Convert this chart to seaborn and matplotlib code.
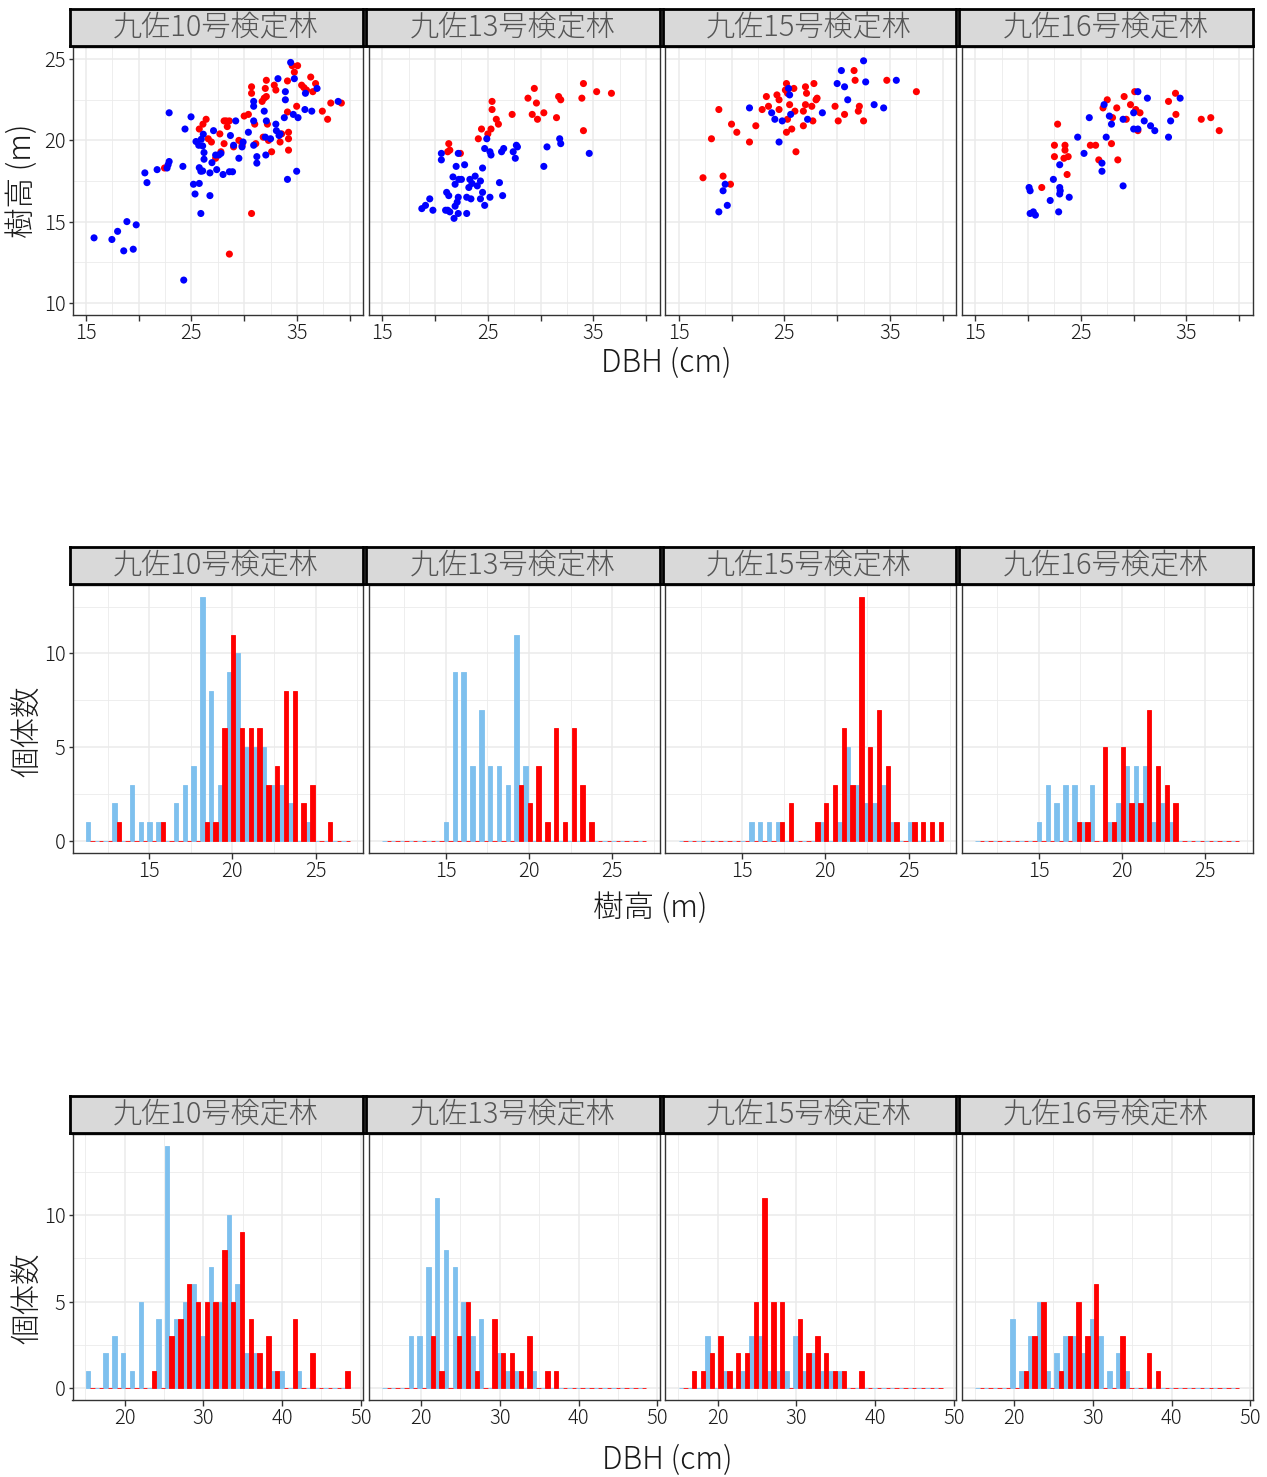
import numpy as np
import pandas as pd
import matplotlib
matplotlib.use("Agg")
import matplotlib.pyplot as plt
from matplotlib.ticker import FixedLocator, NullFormatter, FixedFormatter
import seaborn as sns

# ---------------- DATA ----------------
PANELS = ["九佐10号検定林", "九佐13号検定林", "九佐15号検定林", "九佐16号検定林"]

# scatter: (DBH cm, height m)
P10_RED = [(22.46,18.3),(28.6,13.0),(30.7,15.5),(25.75,20.7),(26.1,21.0),(26.4,21.3),(26.6,20.1),(26.9,19.9),
           (27.7,20.4),(28.1,21.2),(28.3,21.2),(28.6,21.2),(28.4,20.85),(27.3,18.9),(27.8,19.3),(28.1,19.8),
           (29.0,19.6),(29.5,20.0),(29.8,19.7),(30.0,21.5),(30.4,21.6),(30.7,23.3),(30.7,22.9),(31.0,21.0),
           (31.1,19.8),(31.7,22.4),(31.9,22.6),(32.1,22.7),(32.0,23.2),(32.1,23.7),(31.8,20.2),(32.3,20.0),
           (32.2,21.0),(32.6,19.3),(32.85,23.4),(33.0,23.1),(33.55,20.4),(33.4,19.9),(34.1,23.66),(34.1,21.75),
           (34.2,20.5),(34.2,20.1),(34.2,19.4),(34.55,24.6),(35.06,24.6),(34.75,24.2),(34.97,22.1),(35.44,23.4),
           (35.66,23.25),(35.9,23.1),(36.5,23.0),(36.3,23.9),(36.76,23.5),(37.4,21.8),(37.9,21.3),(38.2,22.3),
           (39.2,22.3)]
P10_BLUE = [(15.79,14.0),(17.48,13.9),(18.02,14.4),(18.9,15.0),(19.78,14.8),(18.6,13.2),(19.5,13.3),(24.28,11.4),
            (20.6,18.0),(20.8,17.4),(21.76,18.2),(22.7,18.3),(22.8,18.5),(22.9,18.7),(22.9,21.7),(24.2,18.4),
            (24.4,20.7),(24.97,21.45),(25.2,17.3),(25.75,17.35),(25.35,16.7),(25.9,15.5),(26.76,16.6),(25.44,19.93),
            (25.7,19.7),(26.07,19.66),(26.13,20.38),(25.94,20.07),(26.2,19.25),(26.2,18.84),(25.75,18.32),(25.9,18.1),
            (26.07,18.12),(26.76,18.0),(26.95,18.63),(27.1,20.6),(27.4,18.2),(27.3,19.1),(27.6,19.1),(27.8,19.2),
            (28.0,17.9),(28.7,20.3),(28.6,18.07),(28.9,18.07),(29.0,19.7),(29.2,21.2),(29.5,18.9),(29.8,19.6),
            (29.9,19.9),(30.4,20.5),(30.9,21.2),(30.9,22.1),(30.9,22.4),(30.9,19.7),(31.2,19.0),(31.2,18.6),
            (31.9,21.8),(32.0,20.2),(32.1,21.2),(32.05,19.1),(32.5,20.1),(33.0,21.0),(33.05,20.6),(33.2,23.8),
            (33.3,20.3),(33.4,20.4),(33.8,21.4),(33.9,23.0),(33.9,22.5),(34.1,17.6),(34.4,24.8),(34.75,23.8),
            (34.65,21.6),(35.1,21.4),(34.97,18.1),(35.8,22.9),(35.75,21.9),(36.4,21.8),(36.9,23.2),(38.9,22.4)]
P13_RED = [(21.3,19.8),(21.2,19.3),(21.4,19.4),(22.4,19.2),(24.1,20.1),(24.4,20.7),(25.0,20.4),(25.3,20.7),
           (25.4,22.4),(25.4,21.9),(25.8,21.3),(26.0,21.0),(27.3,21.6),(28.8,22.6),(29.4,23.2),(29.6,22.3),
           (29.2,21.6),(29.7,21.3),(30.3,21.7),(31.5,21.4),(31.7,22.7),(31.9,22.5),(34.05,23.5),(33.9,22.6),
           (34.05,20.6),(35.3,23.0),(36.7,22.9)]
P13_BLUE = [(18.75,15.8),(19.1,16.0),(19.5,16.4),(19.8,15.7),(20.6,19.2),(20.6,18.8),(22.2,19.2),(22.0,18.4),
            (22.8,18.5),(21.7,17.75),(21.9,17.3),(22.25,17.6),(22.5,17.6),(21.1,16.8),(21.3,16.6),(22.2,16.5),
            (22.1,16.2),(21.9,15.95),(21.0,15.7),(21.2,15.7),(21.4,15.6),(22.2,15.5),(21.8,15.2),(23.0,15.5),
            (23.0,16.5),(23.4,16.4),(23.3,17.6),(23.5,17.35),(23.2,17.1),(23.8,17.8),(24.0,17.2),(24.3,17.5),
            (24.5,16.8),(24.3,16.4),(24.7,16.0),(25.2,16.5),(24.5,18.3),(24.7,19.5),(24.9,20.1),(25.2,19.3),
            (25.3,19.1),(26.1,17.4),(26.4,16.6),(26.3,19.3),(26.5,19.5),(27.4,19.3),(27.6,18.9),(27.7,19.7),
            (27.8,19.6),(30.3,18.4),(30.6,19.6),(31.8,20.1),(31.9,19.8),(34.6,19.2)]
P15_RED = [(17.3,17.7),(18.1,20.1),(18.8,21.9),(19.2,17.8),(19.9,17.3),(20.0,21.0),(20.5,20.5),(21.7,19.9),
           (22.3,20.9),(22.9,21.9),(23.5,22.1),(23.3,22.7),(24.3,22.8),(24.5,22.5),(24.5,21.9),(25.1,23.1),
           (25.2,23.5),(25.3,22.9),(25.9,23.2),(25.3,21.3),(25.2,20.5),(25.7,20.7),(25.5,22.2),(26.0,21.8),
           (26.1,19.3),(26.8,21.8),(26.8,20.9),(27.0,23.3),(27.1,22.9),(27.0,22.2),(27.6,22.1),(27.7,21.2),
           (27.8,23.5),(28.0,22.5),(28.1,22.6),(29.8,22.1),(30.1,21.2),(30.7,21.6),(31.6,24.3),(31.7,23.7),
           (32.1,22.1),(32.0,21.8),(32.5,21.2),(34.7,23.7),(37.5,23.0)]
P15_BLUE = [(18.8,15.6),(19.2,16.9),(19.4,17.3),(19.6,16.0),(21.7,22.0),(23.8,21.7),(24.1,21.3),(24.8,21.2),
            (24.5,19.9),(25.4,23.2),(25.5,22.8),(25.6,21.6),(27.2,21.3),(28.6,21.7),(30.0,23.5),(30.4,24.3),
            (30.7,23.3),(31.0,22.5),(32.5,24.9),(32.7,23.6),(33.5,22.2),(34.4,22.0),(35.6,23.7)]
P16_RED = [(21.3,17.1),(22.8,21.0),(22.5,19.7),(22.5,19.0),(23.5,19.7),(23.5,19.4),(23.4,18.9),(23.8,19.0),
           (23.7,17.9),(25.9,19.7),(26.4,19.7),(26.7,18.8),(27.1,22.0),(27.5,22.5),(27.9,19.8),(28.0,21.4),
           (28.4,22.0),(28.5,18.8),(29.1,22.7),(29.3,21.3),(29.7,22.2),(30.1,23.0),(30.2,21.9),(30.6,21.7),
           (30.4,20.6),(33.3,22.4),(33.96,22.9),(34.0,21.6),(36.4,21.3),(37.3,21.4),(38.1,20.6)]
P16_BLUE = [(20.1,17.1),(20.2,16.9),(20.2,15.5),(20.5,15.6),(20.7,15.4),(22.1,16.3),(22.4,17.6),(22.9,15.6),
            (23.0,18.5),(23.0,17.1),(23.05,16.9),(23.0,16.7),(23.9,16.5),(24.7,20.2),(25.3,19.2),(25.8,21.4),
            (27.0,18.6),(27.0,18.1),(27.2,22.2),(27.4,20.2),(27.7,21.5),(27.9,21.0),(29.0,21.3),(29.0,17.2),
            (30.0,21.7),(30.0,20.7),(30.4,20.7),(30.4,23.0),(31.0,21.2),(31.3,22.6),(31.6,20.9),(32.0,20.6),
            (33.3,20.2),(33.5,21.2),(34.4,22.6)]
SCATTER_RED = [P10_RED, P13_RED, P15_RED, P16_RED]
SCATTER_BLUE = [P10_BLUE, P13_BLUE, P15_BLUE, P16_BLUE]

# histogram of height: data range (bin centres of first / last of 30 bins) and counts per bin
HEIGHT_RANGE = (11.45, 26.79)
H10_BLUE = [1,0,0,2,0,3,1,1,1,0,2,3,4,13,8,3,9,10,5,5,5,3,3,2,0,1,0,0,0,0]
H10_RED  = [0,0,0,1,0,0,0,0,1,0,0,0,0,1,1,6,11,6,6,6,3,4,8,8,2,3,0,1,0,0]
H13_BLUE = [0,0,0,0,0,0,0,1,9,9,4,7,4,4,3,11,4,0,0,0,0,0,0,0,0,0,0,0,0,0]
H13_RED  = [0,0,0,0,0,0,0,0,0,0,0,0,0,0,0,3,2,4,1,6,1,6,3,1,0,0,0,0,0,0]
H15_BLUE = [0,0,0,0,0,0,0,0,1,1,1,1,0,0,0,0,1,0,1,5,3,2,2,3,1,0,1,0,0,0]
H15_RED  = [0,0,0,0,0,0,0,0,0,0,0,1,2,0,0,1,2,3,6,3,13,5,7,4,1,0,1,1,1,1]
H16_BLUE = [0,0,0,0,0,0,0,1,3,2,3,3,1,3,0,1,2,4,4,4,1,2,1,0,0,0,0,0,0,0]
H16_RED  = [0,0,0,0,0,0,0,0,0,0,0,1,1,0,5,1,5,2,2,7,4,3,2,0,0,0,0,0,0,0]
HEIGHT_BLUE = [H10_BLUE, H13_BLUE, H15_BLUE, H16_BLUE]
HEIGHT_RED = [H10_RED, H13_RED, H15_RED, H16_RED]

# histogram of DBH
DBH_RANGE = (15.62, 48.05)
D10_BLUE = [1,0,2,3,2,1,5,0,4,14,4,5,6,3,7,5,10,6,2,2,0,1,1,0,1,0,0,0,0,0]
D10_RED  = [0,0,0,0,0,0,0,1,0,3,4,6,5,5,5,8,5,9,4,2,3,1,0,4,0,2,0,0,0,1]
D13_BLUE = [0,0,0,3,3,7,11,8,7,5,3,4,0,2,1,1,0,1,0,0,0,0,0,0,0,0,0,0,0,0]
D13_RED  = [0,0,0,0,0,3,1,0,3,5,1,0,4,2,2,1,3,0,1,1,0,0,0,0,0,0,0,0,0,0]
D15_BLUE = [0,0,0,3,0,1,0,1,3,3,1,1,1,3,1,2,1,1,1,0,0,0,0,0,0,0,0,0,0,0]
D15_RED  = [0,1,1,2,3,1,2,2,5,11,5,5,0,4,2,3,2,1,1,0,1,0,0,0,0,0,0,0,0,0]
D16_BLUE = [0,0,0,0,4,1,3,5,1,2,3,3,2,4,3,1,2,1,0,0,0,0,0,0,0,0,0,0,0,0]
D16_RED  = [0,0,0,0,0,1,3,5,0,1,3,5,3,6,0,0,3,0,0,2,1,0,0,0,0,0,0,0,0,0]
DBH_BLUE = [D10_BLUE, D13_BLUE, D15_BLUE, D16_BLUE]
DBH_RED = [D10_RED, D13_RED, D15_RED, D16_RED]

RED = "#FF0000"
BLUE = "#0000FF"
SKY = "#7EC0EE"

# ---------------- STYLE ----------------
sns.set_theme(style="white")
plt.rcParams['font.family'] = ['Noto Sans CJK JP', 'DejaVu Sans']
plt.rcParams['font.weight'] = 'light'

W, H = 1267, 1477
fig = plt.figure(figsize=(W / 100, H / 100), dpi=100)

def add_ax(x0, y0, w, h):
    return fig.add_axes([x0 / W, 1 - (y0 + h) / H, w / W, h / H])

PANEL_X = [72.5 + 296.5 * i for i in range(4)]
PANEL_W = 290.5
ROWS = [dict(strip=9, plot=47, h=268), dict(strip=547, plot=585, h=268), dict(strip=1096, plot=1134, h=266)]
STRIP_H = 37

GRID = "#EBEBEB"
TICK_FS = 14.5
TITLE_FS = 22
STRIP_FS = 21

def style_panel(ax, xmaj, xmin, ymaj, ymin, xlabels, show_y):
    ax.set_facecolor("white")
    ax.xaxis.set_major_locator(FixedLocator(xmaj))
    ax.xaxis.set_minor_locator(FixedLocator(xmin))
    ax.yaxis.set_major_locator(FixedLocator(ymaj))
    ax.yaxis.set_minor_locator(FixedLocator(ymin))
    ax.xaxis.set_major_formatter(FixedFormatter(xlabels))
    ax.grid(True, which="major", color=GRID, lw=1.1)
    ax.grid(True, which="minor", color=GRID, lw=0.6)
    ax.set_axisbelow(True)
    for s in ax.spines.values():
        s.set_color("#333333")
        s.set_linewidth(1.0)
        s.set_visible(True)
    ax.tick_params(which="major", direction="out", length=4, width=1, color="#333333",
                   labelsize=TICK_FS, labelcolor="#1A1A1A", pad=2,
                   bottom=True, left=show_y, labelleft=show_y)
    ax.tick_params(axis="y", which="major", length=3)
    ax.tick_params(which="minor", length=0)
    if show_y:
        ax.yaxis.set_major_formatter(FixedFormatter([f"{v:g}" for v in ymaj]))
    else:
        ax.yaxis.set_major_formatter(NullFormatter())
    ax.set_xlabel("")
    ax.set_ylabel("")

def strip(row, i):
    sax = add_ax(PANEL_X[i] - 3, row["strip"], PANEL_W + 3, STRIP_H)
    sax.set_facecolor("#D9D9D9")
    sax.set_xticks([]); sax.set_yticks([])
    for s in sax.spines.values():
        s.set_color("black"); s.set_linewidth(2.0)
    sax.text(0.5, 0.47, PANELS[i], ha="center", va="center", fontsize=STRIP_FS,
             color="#555555", transform=sax.transAxes)

def hist_panel(ax, blue, red, rng, n=30):
    lo, hi = rng
    w = (hi - lo) / (n - 1)
    edges = np.linspace(lo - w / 2, hi + w / 2, n + 1)
    centers = (edges[:-1] + edges[1:]) / 2
    df = pd.DataFrame({
        "x": np.concatenate([centers, centers]),
        "n": np.array(blue + red, dtype=float),
        "s": ["blue"] * len(blue) + ["red"] * len(red),
    })
    sns.histplot(data=df, x="x", weights="n", hue="s", hue_order=["blue", "red"],
                 palette={"blue": SKY, "red": RED}, bins=n, binrange=(edges[0], edges[-1]),
                 multiple="dodge", shrink=1, alpha=1, legend=False, ax=ax)
    for p in ax.patches:
        fc = p.get_facecolor()
        p.set_alpha(1)
        p.set_edgecolor(fc)
        p.set_linewidth(0.6)
        if fc[0] > 0.9 and fc[1] < 0.1:
            p.set_zorder(2.2)
        else:
            p.set_zorder(2.1)

# ---------------- ROW 1: scatter ----------------
r = ROWS[0]
for i in range(4):
    ax = add_ax(PANEL_X[i], r["plot"], PANEL_W, r["h"])
    red = SCATTER_RED[i]; blue = SCATTER_BLUE[i]
    df = pd.DataFrame({
        "dbh": [p[0] for p in red] + [p[0] for p in blue],
        "h": [p[1] for p in red] + [p[1] for p in blue],
        "s": ["red"] * len(red) + ["blue"] * len(blue),
    })
    sns.scatterplot(data=df, x="dbh", y="h", hue="s", palette={"red": RED, "blue": BLUE},
                    s=26, linewidth=0, legend=False, ax=ax, zorder=3)
    ax.set_xlim(13.75, 41.25)
    ax.set_ylim(9.25, 25.75)
    style_panel(ax, [15, 20, 25, 30, 35, 40], [17.5, 22.5, 27.5, 32.5, 37.5],
                [10, 15, 20, 25], [12.5, 17.5, 22.5], ["15", "", "25", "", "35", ""], i == 0)
    strip(r, i)

fig.text(22 / W, 1 - 181 / H, "樹高 (m)", rotation=90, ha="center", va="center", fontsize=TITLE_FS, color="#1A1A1A")
fig.text(666 / W, 1 - 363 / H, "DBH (cm)", ha="center", va="center", fontsize=TITLE_FS, color="#1A1A1A")

# ---------------- ROW 2: height histograms ----------------
r = ROWS[1]
for i in range(4):
    ax = add_ax(PANEL_X[i], r["plot"], PANEL_W, r["h"])
    hist_panel(ax, HEIGHT_BLUE[i], HEIGHT_RED[i], HEIGHT_RANGE)
    ax.set_xlim(10.39, 27.84)
    ax.set_ylim(-0.65, 13.65)
    style_panel(ax, [15, 20, 25], [12.5, 17.5, 22.5, 27.5], [0, 5, 10], [2.5, 7.5, 12.5],
                ["15", "20", "25"], i == 0)
    strip(r, i)

fig.text(28 / W, 1 - 731 / H, "個体数", rotation=90, ha="center", va="center", fontsize=TITLE_FS, color="#1A1A1A")
fig.text(650 / W, 1 - 908 / H, "樹高 (m)", ha="center", va="center", fontsize=TITLE_FS, color="#1A1A1A")

# ---------------- ROW 3: DBH histograms ----------------
r = ROWS[2]
for i in range(4):
    ax = add_ax(PANEL_X[i], r["plot"], PANEL_W, r["h"])
    hist_panel(ax, DBH_BLUE[i], DBH_RED[i], DBH_RANGE)
    ax.set_xlim(13.38, 50.28)
    ax.set_ylim(-0.7, 14.7)
    style_panel(ax, [20, 30, 40, 50], [15, 25, 35, 45], [0, 5, 10], [2.5, 7.5, 12.5],
                ["20", "30", "40", "50"], i == 0)
    strip(r, i)

fig.text(28 / W, 1 - 1298 / H, "個体数", rotation=90, ha="center", va="center", fontsize=TITLE_FS, color="#1A1A1A")
fig.text(667 / W, 1 - 1460 / H, "DBH (cm)", ha="center", va="center", fontsize=TITLE_FS, color="#1A1A1A")

fig.savefig("out.png", dpi=100, facecolor="white")
